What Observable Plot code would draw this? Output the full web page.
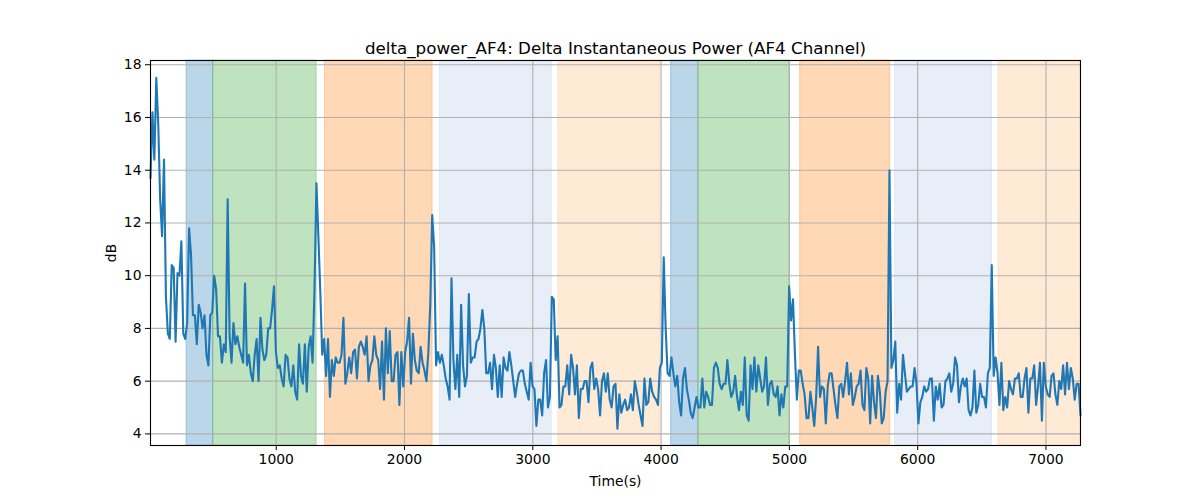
<!DOCTYPE html>
<html><head><meta charset="utf-8">
<script src="https://cdn.jsdelivr.net/npm/d3@7"></script>
<script src="https://cdn.jsdelivr.net/npm/@observablehq/plot@0.6"></script>
<style>body{margin:0;background:#fff;} #chart{width:1200px;height:500px;}</style>
</head><body><div id="chart"></div>
<script>
const titleText = "delta_power_AF4: Delta Instantaneous Power (AF4 Channel)";
const xLabel = "Time(s)";
const yLabel = "dB";
const xTicks = [1000, 2000, 3000, 4000, 5000, 6000, 7000];
const yTicks = [4, 6, 8, 10, 12, 14, 16, 18];

// sampled time axis
const tStart = 20;
const tStep = 15.04;

// delta power (dB)
const power = [
13.7,16.2,14.4,17.5,15.8,12.9,11.5,14.4,9.2,7.8,
7.6,10.4,10.3,7.5,10.1,10.0,11.3,7.8,7.6,8.2,
11.8,10.8,8.5,8.5,7.4,8.9,8.6,8.0,8.5,7.0,
6.6,8.5,8.6,10.0,9.5,7.7,7.7,6.7,7.4,7.1,
12.9,7.7,6.7,8.2,7.4,7.7,7.3,7.0,6.7,9.7,
6.6,7.0,6.3,6.0,7.0,7.6,6.0,8.4,7.2,6.8,
7.0,8.0,8.0,8.7,9.6,7.1,6.5,6.6,6.1,5.8,
7.0,6.9,6.1,5.8,6.6,5.6,5.3,7.4,6.2,5.9,
7.4,5.6,7.3,7.7,6.7,9.5,13.5,11.5,9.4,7.0,
7.6,6.2,7.6,5.4,6.8,6.2,6.9,6.7,
6.7,7.0,8.4,5.9,6.3,6.9,6.3,7.1,7.2,6.1,
7.3,7.5,7.3,7.0,7.7,6.0,6.6,6.8,7.7,7.0,
6.8,5.7,7.5,5.3,8.0,6.3,7.9,6.0,6.0,7.0,
7.1,5.1,7.1,5.8,7.1,7.5,8.4,5.9,7.8,6.8,
6.4,6.3,7.3,6.7,6.4,6.0,7.1,8.9,12.3,11.1,
6.6,7.1,6.7,7.0,6.6,6.1,5.8,5.3,9.9,6.8,
5.7,7.0,5.4,8.9,6.6,5.8,6.2,9.3,6.7,6.9,
6.9,7.5,7.6,8.0,8.7,8.0,6.3,6.3,6.7,5.7,
7.0,6.5,5.4,6.6,5.4,6.9,6.5,6.4,7.1,6.6,
6.0,5.4,5.9,6.3,6.4,6.4,5.9,5.6,5.3,
6.7,5.8,5.7,4.3,5.3,5.3,4.7,6.3,6.8,5.0,
5.4,9.2,9.1,6.8,7.7,5.0,5.1,5.8,5.8,6.6,
5.5,7.0,6.5,5.5,6.6,4.6,5.7,5.7,6.0,6.0,
5.2,6.5,6.7,5.7,6.1,5.7,4.7,6.0,6.3,5.6,
6.3,5.3,5.0,5.8,5.9,4.2,5.5,4.8,5.1,5.3,
4.9,5.0,5.5,4.9,6.0,5.6,5.1,4.7,4.3,6.1,
5.1,5.2,6.1,5.6,5.4,5.3,5.1,6.5,6.7,10.7,
8.0,6.3,6.2,6.9,6.3,5.8,6.2,5.2,4.7,6.1,
6.5,5.7,5.3,4.8,4.6,5.0,5.4,5.0,5.0,6.1,
5.0,5.6,5.4,5.1,5.1,6.5,6.7,6.5,5.9,
5.7,5.9,5.9,6.8,5.9,5.4,5.6,6.2,5.4,4.9,
5.6,5.1,6.9,4.7,4.5,6.6,5.7,6.9,5.6,6.6,
6.1,5.6,5.8,6.9,5.1,5.9,6.0,5.5,5.4,5.8,
4.7,5.5,5.0,5.8,5.8,9.6,8.3,9.1,7.0,5.3,
6.4,6.4,5.9,5.5,4.6,4.6,5.6,5.0,4.3,5.4,
7.3,5.4,5.8,5.7,4.4,5.8,6.3,6.3,5.7,5.1,
4.6,5.8,5.9,5.4,6.0,6.7,5.5,6.3,5.1,5.4,
5.8,5.9,6.4,5.1,4.9,6.5,6.1,4.4,6.2,5.2,
4.6,6.2,5.6,4.4,4.6,5.6,6.0,14.0,6.5,6.8,
7.5,4.8,5.9,5.3,7.0,6.3,5.6,5.7,
5.8,5.8,6.5,5.9,4.4,5.2,5.4,5.8,5.6,5.7,
6.1,6.1,4.5,5.8,5.3,5.9,5.0,5.1,6.0,6.1,
6.3,5.6,5.9,6.9,6.6,5.2,5.8,6.1,5.8,6.1,
4.9,4.7,5.0,6.4,4.8,5.1,5.9,5.4,5.4,5.0,
6.3,6.5,10.4,6.2,6.9,6.3,5.1,6.7,4.9,5.4,
5.0,6.0,5.7,5.5,6.1,6.1,6.3,5.4,5.4,6.1,
6.5,4.8,6.1,6.1,6.6,5.1,5.8,6.7,4.5,6.7,
5.8,5.5,5.4,6.2,6.3,5.5,5.1,6.0,5.7,6.6,
5.5,6.7,5.7,6.5,6.1,5.3,5.9,5.9,4.7
];

// shaded segments
const bandStart = [301, 509, 1380, 2276, 3199, 4078, 4291, 5084, 5824, 6630];
const bandEnd   = [509, 1315, 2219, 3147, 3993, 4291, 5000, 5786, 6579, 7267];
const bandKind  = ["A", "B", "C", "D", "E", "A", "B", "C", "D", "E"];
const kindDomain = ["A", "B", "C", "D", "E"];
const kindColors = ["#1f77b4", "#2ca02c", "#ff7f0e", "#aec7e8", "#ffbb78"];

const series = power.map((v, i) => ({t: tStart + i * tStep, v}));
const bands = bandStart.map((s, i) => ({start: s, end: bandEnd[i], kind: bandKind[i]}));
const xMax = tStart + (power.length - 1) * tStep;

const chart = Plot.plot({
  width: 1200,
  height: 500,
  marginLeft: 150,
  marginRight: 120,
  marginTop: 60,
  marginBottom: 55,
  style: {fontFamily: "DejaVu Sans", fontSize: "13.9px", background: "#fff", color: "#000"},
  x: {domain: [tStart, xMax], label: null},
  y: {domain: [3.56, 18.16], label: null},
  color: {domain: kindDomain, range: kindColors},
  marks: [
    Plot.rect(bands, {x1: "start", x2: "end", y1: 3.56, y2: 18.16, fill: "kind", fillOpacity: 0.3, stroke: "kind", strokeOpacity: 0.3, strokeWidth: 1}),
    Plot.gridX({ticks: xTicks, stroke: "#b0b0b0", strokeOpacity: 1, strokeWidth: 1.1}),
    Plot.gridY({ticks: yTicks, stroke: "#b0b0b0", strokeOpacity: 1, strokeWidth: 1.1}),
    Plot.line(series, {x: "t", y: "v", stroke: "#1f77b4", strokeWidth: 2.1}),
    Plot.frame({stroke: "#000", strokeWidth: 1.1}),
    Plot.axisX({ticks: xTicks, tickSize: 5, tickPadding: 4, tickFormat: d => String(d), label: xLabel, labelAnchor: "center", labelArrow: "none", labelOffset: 40}),
    Plot.axisY({ticks: yTicks, tickSize: 5, tickPadding: 4, tickFormat: d => String(d), label: yLabel, labelAnchor: "center", labelArrow: "none", labelOffset: 44}),
    Plot.text([titleText], {frameAnchor: "top", dy: -18, fontSize: 16.7, text: d => d})
  ]
});
document.getElementById("chart").appendChild(chart);
</script>
</body></html>
